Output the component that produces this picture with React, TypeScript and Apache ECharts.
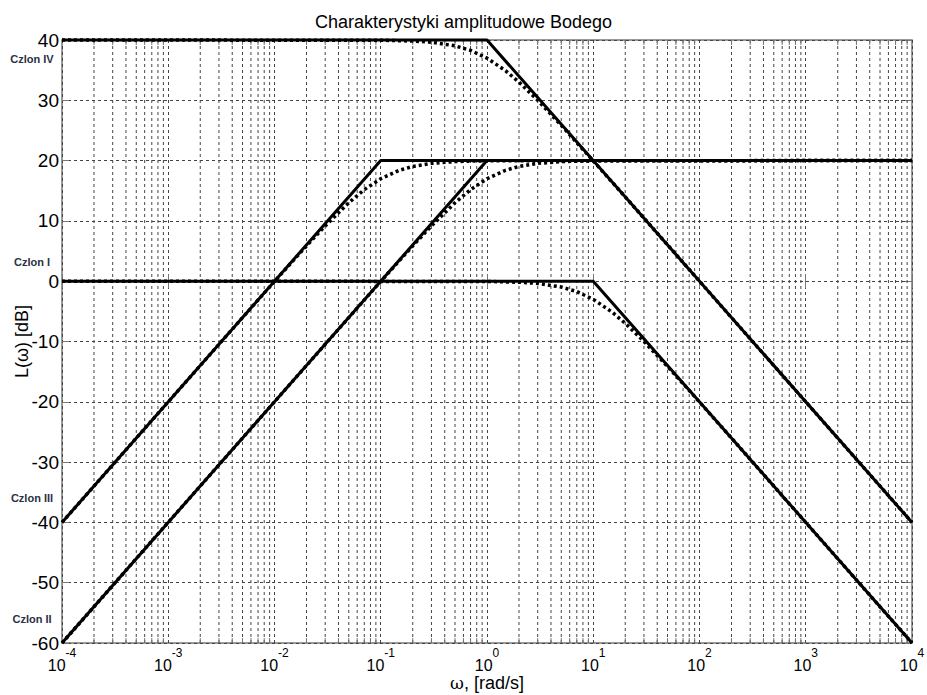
import React, { useEffect, useRef } from "react";
import * as echarts from "echarts";

const FONT = "Liberation Sans, Arial, sans-serif";

// Asymptotic (solid) characteristics: [omega, L dB]
const czlonIV_asym = [[1e-4, 40], [1, 40], [1e4, -40]];
const czlonI_asym = [[1e-4, 0], [10, 0], [1e4, -60]];
const czlonIII_asym = [[1e-4, -40], [0.1, 20], [1e4, 20]];
const czlonII_asym = [[1e-4, -60], [1, 20], [1e4, 20]];

const ivW = [1e-4, 0.1, 0.2, 0.3, 0.5, 0.7, 1, 1.5, 2, 3, 5, 7, 10, 20, 30, 1e4];
const ivL = [40, 39.96, 39.83, 39.63, 39.03, 38.28, 36.99, 34.89, 33.01, 30.0, 25.85, 22.97, 19.96, 13.98, 10.46, -40];

const iW = [1e-4, 1, 2, 3, 5, 7, 10, 15, 20, 30, 50, 70, 100, 200, 300, 1e4];
const iL = [0, -0.04, -0.17, -0.37, -0.97, -1.72, -3.01, -5.11, -6.99, -10.0, -14.15, -16.99, -20.04, -26.02, -29.54, -60];

const iiiW = [1e-4, 1e-3, 2e-3, 3e-3, 5e-3, 7e-3, 0.01, 0.015, 0.02, 0.03, 0.05, 0.07, 0.1, 0.15, 0.2, 0.3, 0.5, 0.7, 1, 2, 1e4];
const iiiL = [-40, -20, -13.98, -10.46, -6.03, -3.12, -0.04, 3.42, 5.85, 9.17, 13.01, 15.18, 16.99, 18.4, 19.03, 19.54, 19.83, 19.91, 19.96, 19.99, 20];

const iiW = [1e-4, 1e-2, 0.02, 0.03, 0.05, 0.07, 0.1, 0.15, 0.2, 0.3, 0.5, 0.7, 1, 1.5, 2, 3, 5, 7, 10, 20, 1e4];
const iiL = [-60, -20, -13.98, -10.46, -6.03, -3.12, -0.04, 3.42, 5.85, 9.17, 13.01, 15.18, 16.99, 18.4, 19.03, 19.54, 19.83, 19.91, 19.96, 19.99, 20];

// Minor x ticks (2..9 per decade)
const decades = [1e-4, 1e-3, 1e-2, 1e-1, 1, 10, 100, 1000];
const multipliers = [2, 3, 4, 5, 6, 7, 8, 9];

const X_MIN = 1e-4;
const X_MAX = 1e4;
const Y_MIN = -60;
const Y_MAX = 40;

const labels = [
  { text: "Czlon IV", y: 36.8 },
  { text: "Czlon I", y: 3.2 },
  { text: "Czlon III", y: -36 },
  { text: "Czlon II", y: -56 },
];

function zip(w: number[], l: number[]) {
  return w.map((v, i) => [v, l[i]]);
}

export default function App() {
  const ref = useRef<HTMLDivElement>(null);
  useEffect(() => {
    if (!ref.current) return;
    const chart = echarts.init(ref.current, null, { renderer: "svg" });
    const minorTicks: number[][] = [];
    decades.forEach((d) => multipliers.forEach((m) => minorTicks.push([d * m, 0])));

    const solid = (data: number[][]) => ({
      type: "line",
      data,
      showSymbol: false,
      symbol: "none",
      clip: false,
      lineStyle: { color: "#000", width: 3 },
      z: 5,
      silent: true,
    });
    const dotted = (data: number[][]) => ({
      type: "line",
      data,
      showSymbol: false,
      symbol: "none",
      clip: false,
      lineStyle: { color: "#000", width: 3.5, type: [3, 3] },
      z: 4,
      silent: true,
    });

    const grid = { left: 62, right: 15, top: 40, bottom: 52 };
    const plotH = 695 - grid.top - grid.bottom;
    const GRID_COLOR = "#444";

    chart.setOption({
      animation: false,
      backgroundColor: "#fff",
      title: {
        text: "Charakterystyki amplitudowe Bodego",
        left: "center",
        top: 8,
        textStyle: { fontFamily: FONT, fontSize: 18, fontWeight: "normal", color: "#000" },
      },
      grid: {
        ...grid,
        show: true,
        borderColor: "#777",
        borderWidth: 1.5,
        backgroundColor: "#fff",
        containLabel: false,
        outerBoundsMode: "none",
      },
      xAxis: [
        {
          type: "log",
          logBase: 10,
          min: X_MIN,
          max: X_MAX,
          interval: 1,
          name: "{w|ω}, [rad/s]",
          nameLocation: "middle",
          nameGap: 40,
          nameMoveOverlap: false,
          nameTextStyle: {
            fontFamily: FONT,
            fontSize: 18,
            lineHeight: 20,
            verticalAlign: "middle",
            color: "#000",
            rich: { w: { fontFamily: "DejaVu Serif, serif", fontSize: 17, lineHeight: 20, color: "#000" } },
          },
          axisLine: { show: false },
          axisTick: { show: true, inside: true, length: 7, lineStyle: { color: "#777" } },
          splitLine: { show: true, lineStyle: { color: GRID_COLOR, width: 1, type: [3, 3] } },
          axisLabel: {
            margin: 4,
            formatter: (v: number) => `{b|10}{s|${Math.round(Math.log10(v))}}`,
            rich: {
              b: { fontFamily: FONT, fontSize: 16, color: "#000", verticalAlign: "bottom", lineHeight: 26 },
              s: { fontFamily: FONT, fontSize: 12, color: "#000", verticalAlign: "top", lineHeight: 26 },
            },
          },
        },
        {
          type: "log",
          logBase: 10,
          min: X_MIN,
          max: X_MAX,
          interval: 1,
          position: "top",
          axisLine: { show: false },
          axisTick: { show: true, inside: true, length: 7, lineStyle: { color: "#777" } },
          axisLabel: { show: false },
          splitLine: { show: false },
        },
      ],
      yAxis: [
        {
          type: "value",
          min: Y_MIN,
          max: Y_MAX,
          interval: 10,
          name: "L(ω) [dB]",
          nameLocation: "middle",
          nameGap: 40,
          nameMoveOverlap: false,
          nameTextStyle: { fontFamily: FONT, fontSize: 18, color: "#000", verticalAlign: "middle" },
          axisLine: { show: false },
          axisTick: { show: true, inside: true, length: 7, lineStyle: { color: "#777" } },
          splitLine: { show: true, lineStyle: { color: GRID_COLOR, width: 1, type: [3, 3] } },
          axisLabel: { fontFamily: FONT, fontSize: 19, color: "#000", margin: 3 },
        },
        {
          type: "value",
          min: Y_MIN,
          max: Y_MAX,
          interval: 10,
          position: "right",
          axisLine: { show: false },
          axisTick: { show: true, inside: true, length: 7, lineStyle: { color: "#777" } },
          axisLabel: { show: false },
          splitLine: { show: false },
        },
      ],
      graphic: labels.map((l) => ({
        type: "text",
        x: 32,
        y: grid.top + ((Y_MAX - l.y) / (Y_MAX - Y_MIN)) * plotH,
        style: {
          text: l.text,
          fontFamily: FONT,
          fontSize: 11,
          fontWeight: "bold",
          fill: "#2a3045",
          textAlign: "center",
          textVerticalAlign: "middle",
        },
      })),
      series: [
        {
          type: "custom",
          data: minorTicks,
          encode: { x: 0, y: 1 },
          silent: true,
          z: 1,
          clip: false,
          renderItem: (params: any, api: any) => {
            const x = api.value(0);
            const b = api.coord([x, Y_MIN]);
            const t = api.coord([x, Y_MAX]);
            return {
              type: "group",
              children: [
                {
                  type: "line",
                  shape: { x1: b[0], y1: b[1], x2: t[0], y2: t[1] },
                  style: { stroke: GRID_COLOR, lineWidth: 1, lineDash: [3, 3] },
                },
                {
                  type: "line",
                  shape: { x1: b[0], y1: b[1], x2: b[0], y2: b[1] - 5 },
                  style: { stroke: "#777", lineWidth: 1 },
                },
                {
                  type: "line",
                  shape: { x1: t[0], y1: t[1], x2: t[0], y2: t[1] + 5 },
                  style: { stroke: "#777", lineWidth: 1 },
                },
              ],
            };
          },
        },
        dotted(zip(ivW, ivL)),
        dotted(zip(iW, iL)),
        dotted(zip(iiiW, iiiL)),
        dotted(zip(iiW, iiL)),
        solid(czlonIV_asym),
        solid(czlonI_asym),
        solid(czlonIII_asym),
        solid(czlonII_asym),
      ],
    });
    return () => chart.dispose();
  }, []);
  return (
    <div
      ref={ref}
      style={{ position: "fixed", left: 0, top: 0, width: 927, height: 695 }}
    />
  );
}
